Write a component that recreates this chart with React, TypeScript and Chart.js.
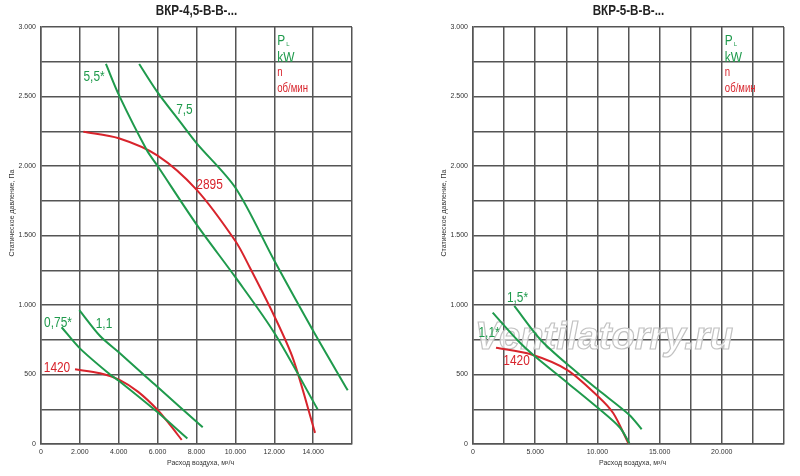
import React, { useEffect, useRef } from 'react';
import Chart, { ChartConfiguration, Plugin } from 'chart.js/auto';

const GREEN = '#1f9a4c';
const RED = '#d8242c';
const GRID = '#555555';
const NARROW = "'Liberation Sans Narrow', 'Liberation Sans', Arial, sans-serif";
const SANS = "'Liberation Sans', Arial, sans-serif";

// ВКР-4,5: air flow, m³/h -> static pressure, Pa
const flow45_075 = [1060, 2000, 3550, 4000, 6000, 7530];
const pres45_075 = [840, 688, 500, 455, 228, 40];
const flow45_11 = [1970, 3040, 4000, 5260, 6000, 8320];
const pres45_11 = [964, 777, 660, 501, 410, 120];
const flow45_1420 = [1750, 3040, 4060, 5000, 6000, 6640, 7240];
const pres45_1420 = [537, 509, 460, 375, 245, 137, 29];
const flow45_55 = [3340, 4030, 5440, 6000, 8000, 10000, 12000, 14230];
const pres45_55 = [2734, 2504, 2115, 2000, 1580, 1200, 800, 250];
const flow45_75 = [5050, 6000, 7150, 8000, 10020, 12000, 14000, 15780];
const pres45_75 = [2734, 2530, 2319, 2165, 1840, 1320, 815, 386];
const flow45_2895 = [2180, 4000, 6000, 8000, 10000, 10750, 12000, 12980, 14100];
const pres45_2895 = [2247, 2200, 2075, 1830, 1460, 1268, 921, 609, 80];

// ВКР-5
const flow5_15 = [3320, 5520, 8600, 10080, 12570, 13560];
const pres5_15 = [993, 741, 496, 388, 209, 106];
const flow5_11 = [1580, 3640, 4850, 7580, 10080, 11820, 12570];
const pres5_11 = [945, 741, 640, 441, 257, 117, 5];
const flow5_1420 = [1850, 4580, 7580, 10080, 11280, 12490];
const pres5_1420 = [693, 647, 532, 340, 221, 5];

// curve labels: text, flow, pressure
const notes45 = [
  { text: '5,5*', x: 2730, y: 2640, color: GREEN },
  { text: '7,5', x: 7380, y: 2403, color: GREEN },
  { text: '2895', x: 8670, y: 1863, color: RED },
  { text: '0,75*', x: 875, y: 870, color: GREEN },
  { text: '1,1', x: 3240, y: 863, color: GREEN },
  { text: '1420', x: 823, y: 547, color: RED },
];
const notes5 = [
  { text: '1,5*', x: 3580, y: 1050, color: GREEN },
  { text: '1,1*', x: 1290, y: 795, color: GREEN },
  { text: '1420', x: 3500, y: 594, color: RED },
];

type Curve = { flow: number[]; pressure: number[]; color: string };
type Note = { text: string; x: number; y: number; color: string };

interface PanelProps {
  title: string;
  xMax: number;
  xStep: number;
  xLabelStep: number;
  curves: Curve[];
  notes: Note[];
  legendAt: number;
  plotLeft: number;
  plotRight: number;
  watermark?: boolean;
}

const fmt = (v: number) => {
  if (v < 1000) return String(v);
  const rest = String(v % 1000).padStart(3, '0');
  return Math.floor(v / 1000) + '.' + rest;
};

// text squeezed horizontally, like the narrow font of the original
const squeezed = (ctx: CanvasRenderingContext2D, text: string, x: number, y: number, k: number) => {
  ctx.save();
  ctx.translate(x, y);
  ctx.scale(k, 1);
  ctx.fillText(text, 0, 0);
  ctx.restore();
};

const overlay: Plugin = {
  id: 'overlay',
  beforeDatasetsDraw(chart, _args, opts: any) {
    if (!opts.watermark) return;
    const ctx = chart.ctx;
    const text = 'Ventilatorry.ru';
    ctx.save();
    ctx.font = `italic bold 40px ${SANS}`;
    const w = ctx.measureText(text).width;
    const size = (40 * 258) / w;
    ctx.font = `italic bold ${size}px ${SANS}`;
    ctx.textAlign = 'left';
    ctx.textBaseline = 'alphabetic';
    ctx.fillStyle = 'rgba(255,255,255,0.75)';
    ctx.strokeStyle = '#c2c2c2';
    ctx.lineWidth = 1.2;
    ctx.fillText(text, 75, 349);
    ctx.strokeText(text, 75, 349);
    ctx.restore();
  },
  afterDraw(chart, _args, opts: any) {
    const ctx = chart.ctx;
    const area = chart.chartArea;
    const xs = chart.scales.x;
    const ys = chart.scales.y;
    ctx.save();

    // title
    ctx.fillStyle = '#222';
    ctx.font = `bold 14px ${SANS}`;
    ctx.textAlign = 'center';
    ctx.textBaseline = 'middle';
    squeezed(ctx, opts.title, (area.left + area.right) / 2, 11, 0.83);

    // axis titles
    ctx.fillStyle = '#333';
    ctx.font = `7px ${NARROW}`;
    ctx.fillText('Расход воздуха, м³/ч', (area.left + area.right) / 2 + 4, 463);
    ctx.save();
    ctx.translate(area.left - 29, 213);
    ctx.rotate(-Math.PI / 2);
    ctx.fillText('Статическое давление, Па', 0, 0);
    ctx.restore();

    // curve labels
    ctx.font = `14px ${SANS}`;
    for (const n of opts.notes as Note[]) {
      ctx.fillStyle = n.color;
      squeezed(ctx, n.text, xs.getPixelForValue(n.x), ys.getPixelForValue(n.y), 0.85);
    }

    // P_L kW / n об/мин
    const lx = xs.getPixelForValue(opts.legendAt) + 3;
    ctx.textAlign = 'left';
    ctx.textBaseline = 'alphabetic';
    ctx.font = `14px ${SANS}`;
    ctx.fillStyle = GREEN;
    squeezed(ctx, 'P', lx, 45, 0.85);
    const pw = ctx.measureText('P').width * 0.85;
    ctx.font = `6px ${SANS}`;
    ctx.fillText('L', lx + pw + 1, 46);
    ctx.font = `14px ${SANS}`;
    squeezed(ctx, 'kW', lx, 62, 0.85);
    ctx.fillStyle = RED;
    ctx.font = `12px ${SANS}`;
    squeezed(ctx, 'n', lx, 76, 0.8);
    squeezed(ctx, 'об/мин', lx, 92, 0.8);
    ctx.restore();
  },
};

const FanPanel: React.FC<PanelProps> = (props) => {
  const chartRef = useRef<Chart<'scatter'>>();
  const canvasRef = useRef<HTMLCanvasElement>(null);

  useEffect(() => {
    const canvas = canvasRef.current;
    if (!canvas) return;
    if (chartRef.current) chartRef.current.destroy();

    const datasets = props.curves.map((c) => ({
      data: c.flow.map((x, i) => ({ x, y: c.pressure[i] })),
      borderColor: c.color,
      backgroundColor: c.color,
      borderWidth: 2,
      showLine: true,
      pointRadius: 0,
      tension: 0.3,
    }));

    const config: ChartConfiguration<'scatter'> = {
      type: 'scatter',
      data: { datasets },
      plugins: [overlay],
      options: {
        animation: false,
        responsive: false,
        layout: { padding: { left: 0, top: 27, right: props.plotRight, bottom: 0 } },
        plugins: {
          legend: { display: false },
          tooltip: { enabled: false },
          overlay: { title: props.title, notes: props.notes, legendAt: props.legendAt, watermark: props.watermark },
        } as any,
        scales: {
          x: {
            type: 'linear',
            min: 0,
            max: props.xMax,
            afterFit: (s: any) => { s.height = 32; },
            ticks: {
              stepSize: props.xStep,
              padding: 4,
              color: '#333',
              font: { family: NARROW, size: 7 },
              maxRotation: 0,
              autoSkip: false,
              callback: (v) => (Number(v) < props.xMax && Number(v) % props.xLabelStep === 0 ? fmt(Number(v)) : ''),
            },
            grid: { color: GRID, lineWidth: 1.5, drawTicks: false },
            border: { color: GRID, width: 1.5 },
          },
          y: {
            type: 'linear',
            min: 0,
            max: 3000,
            afterFit: (s: any) => { s.width = props.plotLeft; },
            ticks: {
              stepSize: 250,
              padding: 5,
              color: '#333',
              font: { family: NARROW, size: 7 },
              autoSkip: false,
              callback: (v) => (Number(v) % 500 === 0 ? fmt(Number(v)) : ''),
            },
            grid: { color: GRID, lineWidth: 1.5, drawTicks: false },
            border: { color: GRID, width: 1.5 },
          },
        },
      },
    };

    chartRef.current = new Chart(canvas, config);
    return () => {
      if (chartRef.current) chartRef.current.destroy();
    };
  }, [props]);

  return <canvas ref={canvasRef} width={400} height={476} style={{ display: 'block', width: 400, height: 476 }} />;
};

const App: React.FC = () => (
  <div style={{ position: 'fixed', left: 0, top: 0, width: 800, height: 476, background: '#fff', display: 'flex' }}>
    <FanPanel
      title="ВКР-4,5-В-В-..."
      xMax={16000}
      xStep={2000}
      xLabelStep={2000}
      legendAt={12000}
      plotLeft={41}
      plotRight={48}
      notes={notes45}
      curves={[
        { flow: flow45_075, pressure: pres45_075, color: GREEN },
        { flow: flow45_11, pressure: pres45_11, color: GREEN },
        { flow: flow45_1420, pressure: pres45_1420, color: RED },
        { flow: flow45_55, pressure: pres45_55, color: GREEN },
        { flow: flow45_75, pressure: pres45_75, color: GREEN },
        { flow: flow45_2895, pressure: pres45_2895, color: RED },
      ]}
    />
    <FanPanel
      title="ВКР-5-В-В-..."
      xMax={25000}
      xStep={2500}
      xLabelStep={5000}
      legendAt={20000}
      plotLeft={73}
      plotRight={16}
      notes={notes5}
      watermark
      curves={[
        { flow: flow5_15, pressure: pres5_15, color: GREEN },
        { flow: flow5_11, pressure: pres5_11, color: GREEN },
        { flow: flow5_1420, pressure: pres5_1420, color: RED },
      ]}
    />
  </div>
);

export default App;
